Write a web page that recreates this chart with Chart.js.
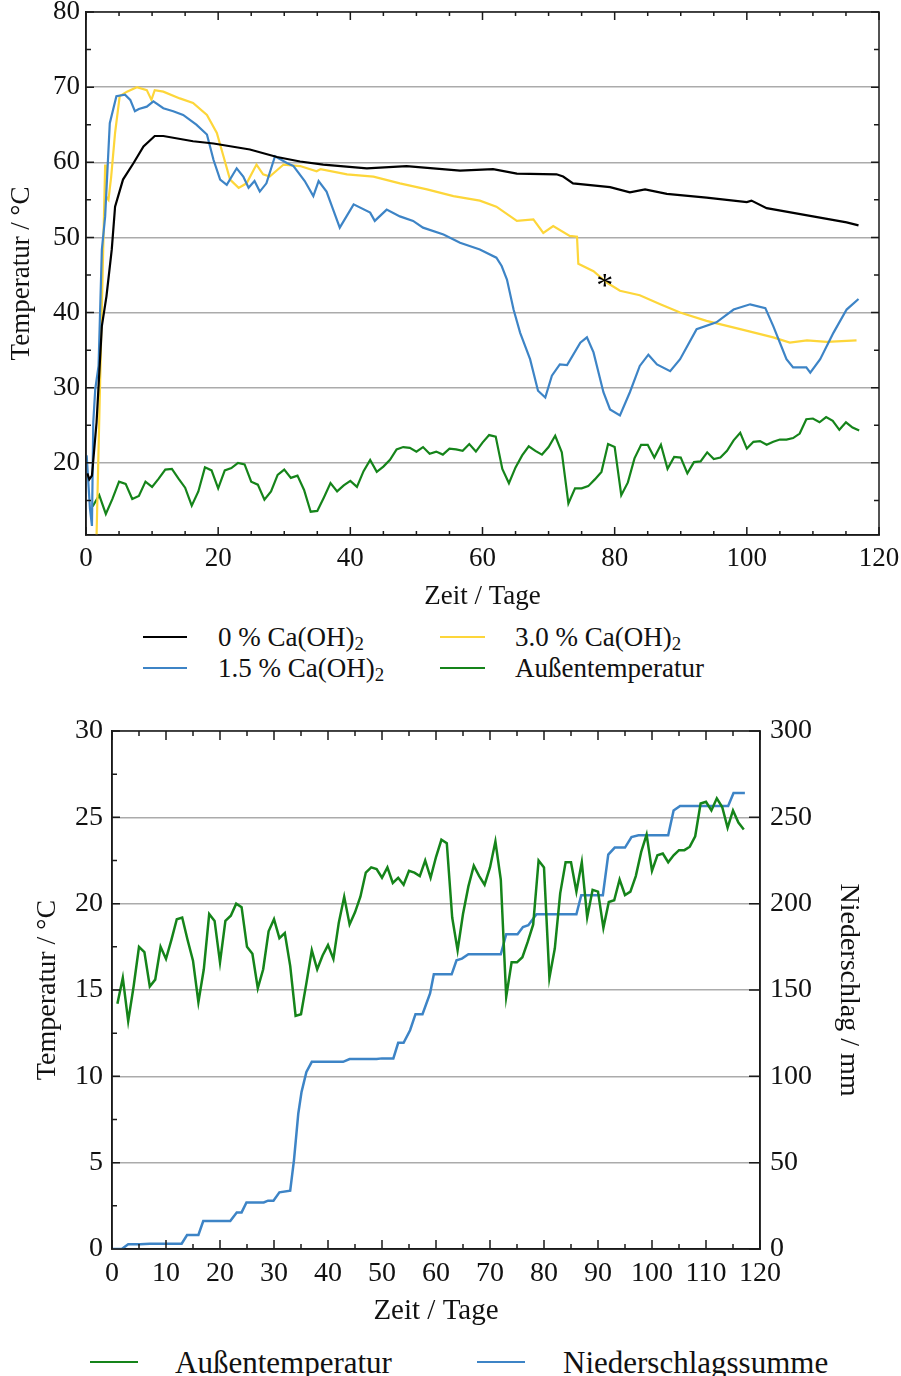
<!DOCTYPE html>
<html>
<head>
<meta charset="utf-8">
<script src="https://cdn.jsdelivr.net/npm/chart.js@4.4.1/dist/chart.umd.min.js"></script>
<style>
  body { margin: 0; background: #fff; width: 901px; height: 1376px; position: relative; overflow: hidden;
         font-family: 'Liberation Serif', 'Times New Roman', serif; color: #111; }
  canvas { position: absolute; left: 0; }
  #topChart { top: 0; }
  #bottomChart { top: 700px; }
  .lg-line { position: absolute; height: 2px; }
  .lg-text { position: absolute; line-height: 1; white-space: nowrap; transform: translateY(-50%); }
  .lg-text sub { font-size: 0.7em; vertical-align: -0.25em; line-height: 0; }
</style>
</head>
<body>
<canvas id="topChart" width="901" height="615"></canvas>
<canvas id="bottomChart" width="901" height="635"></canvas>
<div id="legends"></div>
<script>
// tick labels
const topXTicks = [0, 20, 40, 60, 80, 100, 120];
const topYTicks = [20, 30, 40, 50, 60, 70, 80];
const bottomXTicks = [0, 10, 20, 30, 40, 50, 60, 70, 80, 90, 100, 110, 120];
const bottomYTicks = [0, 5, 10, 15, 20, 25, 30];
const bottomY2Ticks = [0, 50, 100, 150, 200, 250, 300];

// 0 % Ca(OH)2
const blackDays = [0.2, 0.5, 0.9, 1.6, 2.4, 3.1, 3.9, 4.4, 5.6, 7.2, 8.7, 10.4, 11.7, 16.2, 19.3, 24.8, 28.9, 32.4, 35.9, 42.5,
  48.5, 56.6, 61.6, 65.2, 71.2, 72.2, 73.7, 79.3, 82.3, 84.6, 87.9, 93.9, 100.0, 100.7, 103.0, 110.0, 115.1, 116.9];
const blackTemp = [18.6, 17.8, 18.3, 25.4, 38.2, 42.2, 48.4, 54.1, 57.7, 59.9, 62.1, 63.5, 63.5, 62.8, 62.5, 61.7, 60.7, 60.1, 59.7, 59.2,
  59.5, 58.9, 59.1, 58.5, 58.4, 58.1, 57.2, 56.7, 56.0, 56.4, 55.8, 55.3, 54.7, 54.9, 53.9, 52.8, 52.0, 51.6];

// 1.5 % Ca(OH)2
const blueDays = [0.1, 0.6, 0.9, 1.1, 1.4, 1.9, 2.4, 2.9, 3.6, 4.6, 5.9, 6.7, 7.4, 8.0, 9.2, 10.2, 11.7, 13.2, 14.7, 16.7,
  18.3, 19.3, 20.3, 21.3, 22.8, 23.8, 24.6, 25.5, 26.3, 27.3, 28.6, 30.4, 31.4, 33.1, 34.4, 35.2, 36.4, 37.4, 38.4, 40.5,
  43.0, 43.7, 45.5, 47.5, 49.5, 51.0, 54.1, 56.6, 59.6, 62.1, 62.9, 63.7, 64.7, 65.7, 67.2, 68.4, 69.5, 70.5, 71.7, 72.8,
  74.8, 75.8, 76.8, 78.3, 79.3, 80.8, 82.3, 83.8, 85.1, 86.4, 88.4, 89.9, 92.4, 95.4, 98.0, 100.5, 102.8, 104.0, 106.0, 107.0,
  109.0, 109.6, 111.1, 113.1, 115.1, 116.9];
const blueTemp = [21.0, 13.9, 11.6, 25.4, 29.8, 32.9, 48.4, 52.8, 65.2, 68.8, 69.0, 68.3, 66.8, 67.1, 67.4, 68.1, 67.2, 66.8, 66.3, 65.0,
  63.7, 60.3, 57.7, 57.0, 59.2, 58.1, 56.6, 57.5, 56.1, 57.2, 60.8, 59.9, 59.5, 57.5, 55.5, 57.5, 56.1, 53.7, 51.3, 54.4,
  53.3, 52.2, 53.7, 52.8, 52.2, 51.3, 50.4, 49.3, 48.4, 47.3, 46.2, 44.4, 40.4, 37.3, 33.8, 29.6, 28.7, 31.6, 33.1, 33.0,
  36.0, 36.7, 34.7, 29.4, 27.1, 26.3, 29.4, 32.9, 34.4, 33.1, 32.2, 33.8, 37.8, 38.7, 40.4, 41.1, 40.6, 38.2, 33.8, 32.7,
  32.7, 32.0, 33.8, 37.3, 40.4, 41.8];

// 3.0 % Ca(OH)2
const yellowDays = [1.6, 2.6, 2.9, 3.0, 3.4, 3.8, 4.4, 5.1, 6.2, 7.7, 9.2, 9.9, 10.4, 11.7, 14.2, 16.2, 18.3, 19.8, 20.8, 21.8,
  23.1, 24.3, 25.8, 26.8, 27.8, 29.9, 32.4, 34.9, 35.5, 39.5, 43.5, 47.5, 51.6, 55.6, 59.6, 62.1, 65.2, 67.7, 69.2, 70.7,
  73.2, 74.3, 74.5, 76.8, 78.8, 80.8, 83.8, 86.9, 89.9, 93.9, 99.0, 104.0, 106.5, 109.1, 112.1, 116.6];
const yellowTemp = [10.4, 48.4, 59.7, 55.5, 55.0, 58.0, 63.9, 68.8, 69.4, 70.0, 69.6, 68.3, 69.6, 69.4, 68.5, 67.9, 66.3, 63.9, 60.8, 57.7,
  56.6, 57.2, 59.7, 58.4, 58.1, 59.7, 59.5, 58.8, 59.1, 58.4, 58.1, 57.2, 56.4, 55.5, 54.9, 54.1, 52.2, 52.4, 50.6, 51.5,
  50.2, 50.1, 46.5, 45.5, 44.0, 42.9, 42.3, 41.1, 40.0, 38.9, 37.8, 36.7, 36.0, 36.3, 36.1, 36.3];

// Außentemperatur (daily)
const outsideDays = [1, 2, 3, 4, 5, 6, 7, 8, 9, 10, 11, 12, 13, 14, 15, 16, 17, 18, 19, 20,
  21, 22, 23, 24, 25, 26, 27, 28, 29, 30, 31, 32, 33, 34, 35, 36, 37, 38, 39, 40,
  41, 42, 43, 44, 45, 46, 47, 48, 49, 50, 51, 52, 53, 54, 55, 56, 57, 58, 59, 60,
  61, 62, 63, 64, 65, 66, 67, 68, 69, 70, 71, 72, 73, 74, 75, 76, 77, 78, 79, 80,
  81, 82, 83, 84, 85, 86, 87, 88, 89, 90, 91, 92, 93, 94, 95, 96, 97, 98, 99, 100,
  101, 102, 103, 104, 105, 106, 107, 108, 109, 110, 111, 112, 113, 114, 115, 116, 117];
const outsideTemp = [14.2, 15.7, 13.2, 15.2, 17.5, 17.2, 15.2, 15.6, 17.5, 16.8, 17.9, 19.1, 19.2, 17.9, 16.7, 14.3, 16.2, 19.4, 19.0, 16.6,
  19.0, 19.3, 20.0, 19.8, 17.5, 17.1, 15.1, 16.2, 18.4, 19.1, 18.0, 18.3, 16.4, 13.5, 13.6, 15.4, 17.3, 16.2, 17.0, 17.6,
  16.8, 18.9, 20.4, 18.8, 19.5, 20.4, 21.8, 22.1, 22.0, 21.5, 22.1, 21.2, 21.5, 21.1, 21.9, 21.8, 21.6, 22.5, 21.5, 22.7,
  23.7, 23.5, 19.2, 17.3, 19.4, 21.0, 22.2, 21.6, 21.1, 22.1, 23.6, 21.4, 14.6, 16.6, 16.6, 16.9, 17.8, 18.8, 22.5, 22.1,
  15.7, 17.4, 20.6, 22.4, 22.4, 20.7, 22.4, 19.2, 20.8, 20.7, 18.6, 20.1, 20.2, 21.4, 20.5, 20.7, 21.6, 23.0, 24.0, 21.9,
  22.8, 22.9, 22.4, 22.8, 23.1, 23.1, 23.3, 23.9, 25.8, 25.9, 25.4, 26.1, 25.6, 24.4, 25.4, 24.7, 24.3];

// Niederschlagssumme (mm)
const rainDays = [0, 1.8, 3.0, 5.2, 7.0, 12.9, 13.9, 16.0, 16.9, 21.9, 23.1, 24.0, 24.9, 28.1, 28.9, 29.9, 31.0, 33.0, 33.7, 34.5,
  35.1, 36.0, 37.0, 42.8, 44.0, 49.0, 50.0, 52.1, 53.0, 54.0, 55.2, 56.2, 57.5, 58.9, 59.6, 62.9, 63.8, 64.8, 66.0, 72.0,
  73.0, 75.1, 76.1, 77.1, 78.6, 86.0, 86.9, 90.9, 91.9, 93.1, 95.0, 96.2, 97.5, 103.0, 104.0, 105.2, 114.1, 115.1, 117.2];
const rainSum = [0, 0, 2.7, 2.7, 3.1, 3.1, 8.1, 8.1, 16.2, 16.2, 21.2, 21.2, 27.0, 27.0, 28.0, 28.0, 32.8, 33.8, 51.5, 78.5,
  91.0, 102.6, 108.4, 108.4, 110.0, 110.0, 110.4, 110.4, 119.4, 119.4, 126.7, 136.0, 136.0, 148.0, 159.1, 159.1, 167.2, 168.2, 170.7, 170.7,
  182.3, 182.3, 186.5, 187.5, 193.9, 193.9, 204.9, 204.9, 228.4, 232.5, 232.5, 238.6, 239.6, 239.6, 254.0, 256.6, 256.6, 264.1, 264.1];

// asterisk marker on the 3.0 % curve
const starDay = 78.5, starTemp = 44.0;

const colBlack = '#000000', colBlue = '#3d84c6', colYellow = '#fdd63a', colGreen = '#15841a';
const serif = "'Liberation Serif', 'Times New Roman', serif";

function pairs(xs, ys) { return xs.map((x, i) => ({ x: x, y: ys[i] })); }

// inward ticks, frame and text marks
const frameTicks = {
  id: 'frameTicks',
  afterDraw(chart, args, o) {
    const { ctx, chartArea: a, scales } = chart;
    ctx.save();
    ctx.strokeStyle = '#1a1a1a';
    ctx.lineWidth = 1.5;
    ctx.beginPath();
    for (let v = o.x.min; v <= o.x.max + 1e-9; v += o.x.step) {
      const len = Math.abs(v % o.x.major) < 1e-6 ? o.x.long : o.x.short;
      const px = scales.x.getPixelForValue(v);
      ctx.moveTo(px, a.bottom); ctx.lineTo(px, a.bottom - len);
      ctx.moveTo(px, a.top); ctx.lineTo(px, a.top + len);
    }
    o.sides.forEach(sd => {
      const sc = scales[sd.scale];
      for (let v = sd.min; v <= sd.max + 1e-9; v += sd.step) {
        const len = Math.abs(v % sd.major) < 1e-6 ? sd.long : sd.short;
        const py = sc.getPixelForValue(v);
        if (sd.edge !== 'right') { ctx.moveTo(a.left, py); ctx.lineTo(a.left + len, py); }
        if (sd.edge !== 'left') { ctx.moveTo(a.right, py); ctx.lineTo(a.right - len, py); }
      }
    });
    ctx.stroke();
    ctx.strokeRect(a.left, a.top, a.right - a.left, a.bottom - a.top);
    (o.marks || []).forEach(m => {
      ctx.fillStyle = '#000';
      ctx.font = m.size + 'px ' + serif;
      ctx.textAlign = 'center';
      ctx.textBaseline = 'alphabetic';
      ctx.fillText(m.text, scales.x.getPixelForValue(m.x), scales.y.getPixelForValue(m.y) + m.size * 0.41);
    });
    ctx.restore();
  }
};

function setTicks(list) { return s => { s.ticks = list.map(v => ({ value: v })); }; }
// fixed box sizes, and no extra room for overhanging labels
function fitX(h) { return s => { s.height = h; s.paddingLeft = 0; s.paddingRight = 0; }; }
function fitY(w) { return s => { s.width = w; s.paddingTop = 0; s.paddingBottom = 0; }; }

// top chart: reactor temperatures
new Chart(document.getElementById('topChart'), {
  type: 'line',
  data: {
    datasets: [
      { label: '0 % Ca(OH)₂', data: pairs(blackDays, blackTemp), borderColor: colBlack, borderWidth: 2.2 },
      { label: '1.5 % Ca(OH)₂', data: pairs(blueDays, blueTemp), borderColor: colBlue, borderWidth: 2.2 },
      { label: '3.0 % Ca(OH)₂', data: pairs(yellowDays, yellowTemp), borderColor: colYellow, borderWidth: 2.2 },
      { label: 'Außentemperatur', data: pairs(outsideDays, outsideTemp), borderColor: colGreen, borderWidth: 2.2 }
    ]
  },
  options: {
    responsive: false,
    devicePixelRatio: 1,
    animation: false,
    elements: { point: { radius: 0 }, line: { tension: 0, fill: false } },
    layout: { padding: { left: 0, right: 22, top: 12, bottom: 0 }, autoPadding: false },
    plugins: {
      legend: { display: false },
      tooltip: { enabled: false },
      frameTicks: {
        x: { min: 0, max: 120, step: 5, major: 20, long: 8, short: 4 },
        sides: [{ scale: 'y', min: 15, max: 80, step: 5, major: 10, long: 8, short: 5, edge: 'both' }],
        marks: [{ x: starDay, y: starTemp, text: '*', size: 34 }]
      }
    },
    scales: {
      x: {
        type: 'linear', min: 0, max: 120,
        afterBuildTicks: setTicks(topXTicks),
        afterFit: fitX(80),
        grid: { display: false, drawTicks: false },
        border: { display: true, color: '#1a1a1a', width: 1.5 },
        ticks: { font: { family: serif, size: 27 }, color: '#111', padding: 8, maxRotation: 0 },
        title: { display: true, text: 'Zeit / Tage', font: { family: serif, size: 27 }, color: '#111', padding: { top: 0, bottom: 2 } }
      },
      y: {
        min: 10.4, max: 80,
        afterBuildTicks: setTicks(topYTicks),
        afterFit: fitY(86),
        grid: { color: '#ababab', lineWidth: 1.5, drawTicks: false },
        border: { display: true, color: '#1a1a1a', width: 1.5 },
        ticks: { font: { family: serif, size: 27 }, color: '#111', padding: 6 },
        title: { display: true, text: 'Temperatur / °C', font: { family: serif, size: 27 }, color: '#111', padding: { top: 6, bottom: 0 } }
      }
    }
  },
  plugins: [frameTicks]
});

// bottom chart: outside temperature and rain sum
new Chart(document.getElementById('bottomChart'), {
  type: 'line',
  data: {
    datasets: [
      { label: 'Außentemperatur', data: pairs(outsideDays, outsideTemp), borderColor: colGreen, borderWidth: 2.5, yAxisID: 'y' },
      { label: 'Niederschlagssumme', data: pairs(rainDays, rainSum), borderColor: colBlue, borderWidth: 2.5, yAxisID: 'y2' }
    ]
  },
  options: {
    responsive: false,
    devicePixelRatio: 1,
    animation: false,
    elements: { point: { radius: 0 }, line: { tension: 0, fill: false } },
    layout: { padding: { left: 0, right: 0, top: 31, bottom: 0 }, autoPadding: false },
    plugins: {
      legend: { display: false },
      tooltip: { enabled: false },
      frameTicks: {
        x: { min: 0, max: 120, step: 5, major: 10, long: 9, short: 5 },
        sides: [
          { scale: 'y', min: 2.5, max: 30, step: 2.5, major: 5, long: 8, short: 5, edge: 'left' },
          { scale: 'y2', min: 0, max: 300, step: 50, major: 50, long: 11, short: 11, edge: 'right' }
        ]
      }
    },
    scales: {
      x: {
        type: 'linear', min: 0, max: 120,
        afterBuildTicks: setTicks(bottomXTicks),
        afterFit: fitX(86),
        grid: { display: false, drawTicks: false },
        border: { display: true, color: '#1a1a1a', width: 1.5 },
        ticks: { font: { family: serif, size: 28 }, color: '#111', padding: 8, maxRotation: 0, autoSkip: false },
        title: { display: true, text: 'Zeit / Tage', font: { family: serif, size: 29 }, color: '#111', padding: { top: 0, bottom: 6 } }
      },
      y: {
        position: 'left', min: 0, max: 30,
        afterBuildTicks: setTicks(bottomYTicks),
        afterFit: fitY(112),
        grid: { color: '#ababab', lineWidth: 1.5, drawTicks: false },
        border: { display: true, color: '#1a1a1a', width: 1.5 },
        ticks: { font: { family: serif, size: 28 }, color: '#111', padding: 9 },
        title: { display: true, text: 'Temperatur / °C', font: { family: serif, size: 28 }, color: '#111', padding: { top: 31, bottom: 0 } }
      },
      y2: {
        position: 'right', min: 0, max: 300,
        afterBuildTicks: setTicks(bottomY2Ticks),
        afterFit: fitY(141),
        grid: { display: false, drawTicks: false },
        border: { display: true, color: '#1a1a1a', width: 1.5 },
        ticks: { font: { family: serif, size: 28 }, color: '#111', padding: 10 },
        title: { display: true, text: 'Niederschlag / mm', font: { family: serif, size: 28 }, color: '#111', padding: { top: 36, bottom: 0 } }
      }
    }
  },
  plugins: [frameTicks]
});

// HTML legends
const legendItems = [
  { label: '0 % Ca(OH)₂', color: colBlack, x: 143, y: 637, w: 44, tx: 218, size: 27 },
  { label: '3.0 % Ca(OH)₂', color: colYellow, x: 440, y: 637, w: 45, tx: 515, size: 27 },
  { label: '1.5 % Ca(OH)₂', color: colBlue, x: 143, y: 668, w: 44, tx: 218, size: 27 },
  { label: 'Außentemperatur', color: colGreen, x: 440, y: 668, w: 45, tx: 515, size: 27 },
  { label: 'Außentemperatur', color: colGreen, x: 90, y: 1362, w: 48, tx: 175, size: 31 },
  { label: 'Niederschlagssumme', color: colBlue, x: 477, y: 1362, w: 48, tx: 563, size: 31 }
];
const box = document.getElementById('legends');
legendItems.forEach(it => {
  const ln = document.createElement('div');
  ln.className = 'lg-line';
  ln.style.cssText = `left:${it.x}px;top:${it.y - 1}px;width:${it.w}px;background:${it.color}`;
  box.appendChild(ln);
  const tx = document.createElement('div');
  tx.className = 'lg-text';
  tx.style.cssText = `left:${it.tx}px;top:${it.y}px;font-size:${it.size}px`;
  tx.innerHTML = it.label.replace('₂', '<sub>2</sub>');
  box.appendChild(tx);
});
</script>
</body>
</html>
